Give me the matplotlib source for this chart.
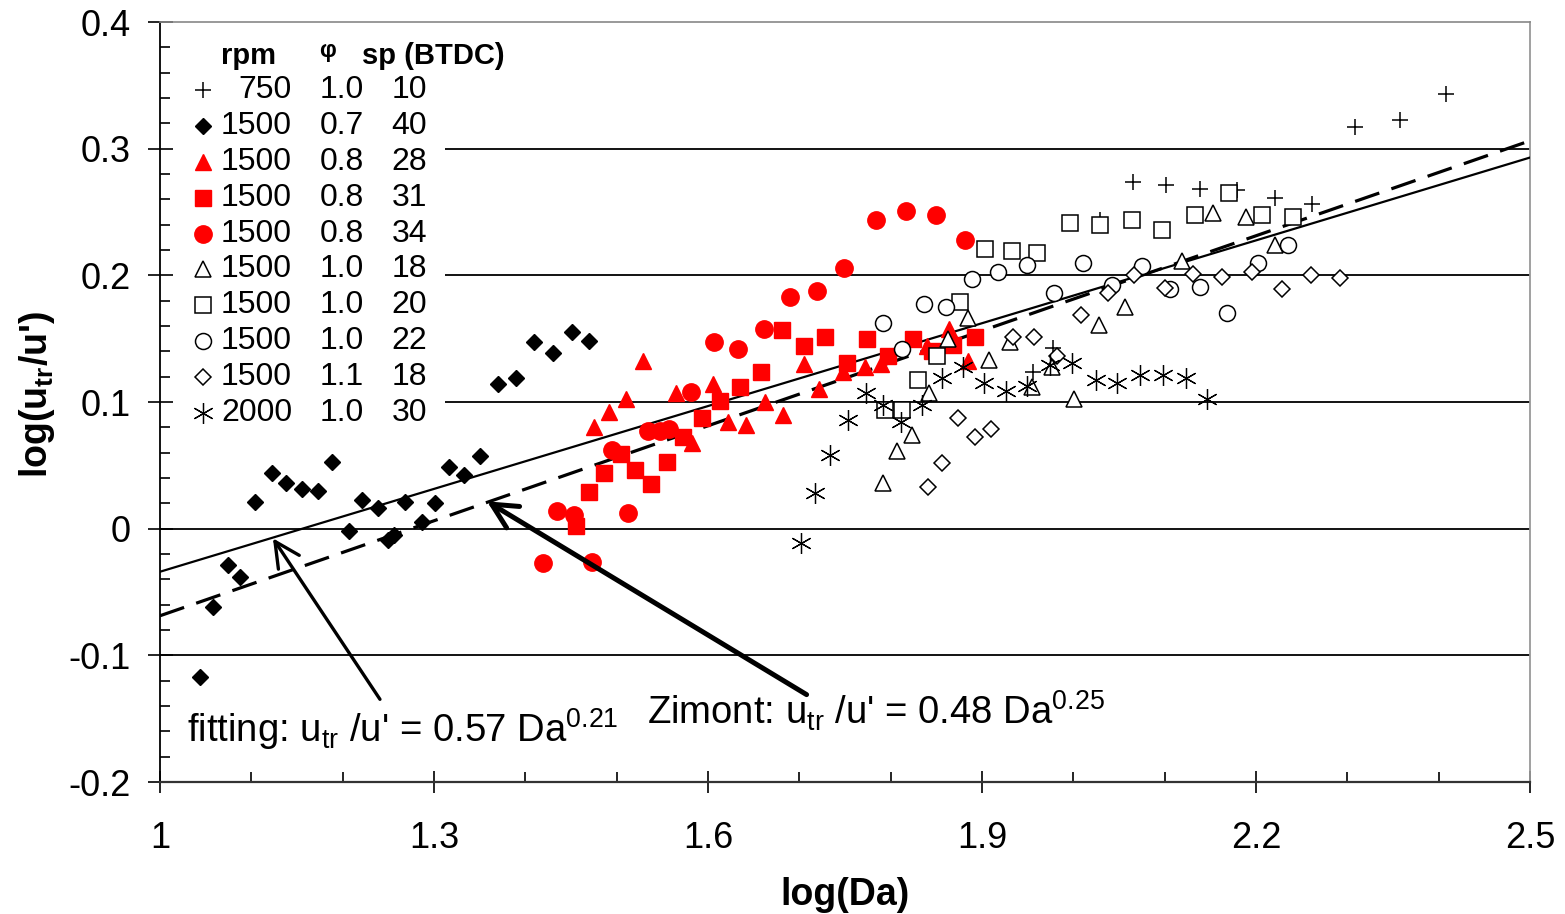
import matplotlib
matplotlib.use("Agg")
import matplotlib.pyplot as plt
from matplotlib.patches import Rectangle
from matplotlib.ticker import MultipleLocator
import numpy as np

plt.rcParams["font.family"] = ["Liberation Sans", "DejaVu Sans"]
plt.rcParams["mathtext.fontset"] = "custom"
plt.rcParams["mathtext.rm"] = "Liberation Sans"
plt.rcParams["mathtext.it"] = "Liberation Sans:italic"
plt.rcParams["mathtext.bf"] = "Liberation Sans:bold"

# ----------------------------------------------------------------------------
# Data: x = log(Da), y = log(u_tr/u')
# ----------------------------------------------------------------------------
# 750 rpm, phi 1.0, sp 10
plus750_x = [1.956, 1.978, 2.029, 2.065, 2.101, 2.139, 2.179, 2.221, 2.261,
             2.308, 2.358, 2.408]
plus750_y = [0.124, 0.143, 0.244, 0.274, 0.271, 0.268, 0.267, 0.261, 0.256,
             0.317, 0.323, 0.343]

# 1500 rpm, phi 0.7, sp 40
dia07_x = [1.044, 1.058, 1.075, 1.088, 1.104, 1.123, 1.138, 1.156, 1.173,
           1.188, 1.207, 1.221, 1.239, 1.250, 1.256, 1.268, 1.287, 1.301,
           1.316, 1.333, 1.350, 1.370, 1.390, 1.410, 1.430, 1.451, 1.470]
dia07_y = [-0.117, -0.062, -0.029, -0.038, 0.021, 0.044, 0.036, 0.031, 0.030,
           0.053, -0.002, 0.023, 0.016, -0.009, -0.005, 0.021, 0.005, 0.020,
           0.049, 0.042, 0.057, 0.114, 0.119, 0.147, 0.139, 0.155, 0.148]

# 1500 rpm, phi 0.8, sp 28
tri08_x = [1.475, 1.492, 1.510, 1.529, 1.565, 1.582, 1.605, 1.622, 1.642,
           1.662, 1.682, 1.705, 1.722, 1.748, 1.772, 1.790, 1.840, 1.864, 1.885]
tri08_y = [0.080, 0.092, 0.102, 0.132, 0.107, 0.068, 0.114, 0.084, 0.082,
           0.100, 0.090, 0.130, 0.110, 0.124, 0.128, 0.130, 0.144, 0.158, 0.132]

# 1500 rpm, phi 0.8, sp 31
sq08_x = [1.455, 1.470, 1.486, 1.505, 1.520, 1.538, 1.555, 1.573, 1.594,
          1.613, 1.635, 1.658, 1.681, 1.705, 1.728, 1.752, 1.774, 1.797,
          1.824, 1.845, 1.868, 1.892]
sq08_y = [0.002, 0.029, 0.044, 0.059, 0.046, 0.035, 0.053, 0.072, 0.087,
          0.101, 0.112, 0.124, 0.157, 0.144, 0.151, 0.131, 0.150, 0.136,
          0.150, 0.140, 0.145, 0.151]

# 1500 rpm, phi 0.8, sp 34
circ08_x = [1.419, 1.435, 1.453, 1.473, 1.495, 1.513, 1.534, 1.547, 1.557,
            1.581, 1.607, 1.633, 1.661, 1.690, 1.719, 1.749, 1.784, 1.817,
            1.850, 1.881]
circ08_y = [-0.027, 0.014, 0.011, -0.026, 0.062, 0.012, 0.077, 0.077, 0.079,
            0.108, 0.147, 0.142, 0.158, 0.183, 0.188, 0.206, 0.244, 0.251,
            0.248, 0.228]

# 1500 rpm, phi 1.0, sp 18
tri10_x = [1.792, 1.807, 1.823, 1.842, 1.863, 1.885, 1.908, 1.931, 1.955,
           1.977, 2.001, 2.028, 2.057, 2.119, 2.153, 2.189, 2.221]
tri10_y = [0.036, 0.061, 0.074, 0.107, 0.150, 0.166, 0.133, 0.147, 0.112,
           0.128, 0.102, 0.161, 0.175, 0.211, 0.249, 0.246, 0.224]

# 1500 rpm, phi 1.0, sp 20
sq10_x = [1.794, 1.812, 1.830, 1.851, 1.876, 1.903, 1.933, 1.960, 1.996,
          2.029, 2.064, 2.097, 2.133, 2.171, 2.207, 2.241]
sq10_y = [0.094, 0.094, 0.117, 0.136, 0.179, 0.221, 0.219, 0.218, 0.241,
          0.240, 0.244, 0.236, 0.248, 0.265, 0.248, 0.246]

# 1500 rpm, phi 1.0, sp 22
circ10_x = [1.792, 1.812, 1.837, 1.861, 1.889, 1.918, 1.949, 1.979, 2.011,
            2.042, 2.075, 2.106, 2.139, 2.168, 2.202, 2.235]
circ10_y = [0.162, 0.142, 0.177, 0.175, 0.197, 0.203, 0.208, 0.186, 0.210,
            0.192, 0.207, 0.189, 0.191, 0.170, 0.210, 0.224]

# 1500 rpm, phi 1.1, sp 18
dia11_x = [1.841, 1.856, 1.874, 1.892, 1.910, 1.934, 1.957, 1.982, 2.009,
           2.038, 2.066, 2.100, 2.131, 2.163, 2.196, 2.228, 2.260, 2.292]
dia11_y = [0.033, 0.052, 0.087, 0.072, 0.079, 0.151, 0.151, 0.136, 0.169,
           0.186, 0.200, 0.190, 0.201, 0.199, 0.203, 0.189, 0.200, 0.198]

# 2000 rpm, phi 1.0, sp 30
ast20_x = [1.702, 1.717, 1.734, 1.753, 1.773, 1.792, 1.811, 1.834, 1.856,
           1.879, 1.902, 1.926, 1.949, 1.974, 1.999, 2.025, 2.048, 2.073,
           2.098, 2.123, 2.146]
ast20_y = [-0.011, 0.028, 0.058, 0.086, 0.107, 0.098, 0.084, 0.098, 0.119,
           0.128, 0.115, 0.109, 0.113, 0.129, 0.131, 0.117, 0.115, 0.121,
           0.121, 0.119, 0.102]

legend_rpm = ["750", "1500", "1500", "1500", "1500", "1500", "1500", "1500",
              "1500", "2000"]
legend_phi = ["1.0", "0.7", "0.8", "0.8", "0.8", "1.0", "1.0", "1.0", "1.1",
              "1.0"]
legend_sp = ["10", "40", "28", "31", "34", "18", "20", "22", "18", "30"]

# straight lines: y = c0 + c1 * x
fit_c0, fit_c1 = -0.252, 0.218                  # fitting line as drawn
zim_c0, zim_c1 = np.log10(0.48), 0.25           # Zimont: 0.48 Da^0.25
line_x = [1.0, 2.5]

xtick_vals = [1.0, 1.3, 1.6, 1.9, 2.2, 2.5]
xtick_labels = ["1", "1.3", "1.6", "1.9", "2.2", "2.5"]
ytick_vals = [-0.2, -0.1, 0.0, 0.1, 0.2, 0.3, 0.4]
ytick_labels = ["-0.2", "-0.1", "0", "0.1", "0.2", "0.3", "0.4"]

# ----------------------------------------------------------------------------
# Plot
# ----------------------------------------------------------------------------
RED = "#ff0000"
series = [
    (plus750_x, plus750_y, dict(marker="+", ms=12, mew=1.1, color="black")),
    (dia07_x, dia07_y, dict(marker="D", ms=8.5, color="black", mec="black")),
    (tri08_x, tri08_y, dict(marker="^", ms=12, color=RED, mec=RED)),
    (sq08_x, sq08_y, dict(marker="s", ms=11, color=RED, mec=RED)),
    (circ08_x, circ08_y, dict(marker="o", ms=12.5, color=RED, mec=RED)),
    (tri10_x, tri10_y, dict(marker="^", ms=11, mfc="white", mec="black", mew=1.1)),
    (sq10_x, sq10_y, dict(marker="s", ms=11, mfc="white", mec="black", mew=1.1)),
    (circ10_x, circ10_y, dict(marker="o", ms=11.5, mfc="white", mec="black", mew=1.1)),
    (dia11_x, dia11_y, dict(marker="D", ms=8, mfc="white", mec="black", mew=1.1)),
    (ast20_x, ast20_y, dict(marker=(6, 2, 0), ms=15, mew=0.9, color="black")),
]

fig = plt.figure(figsize=(15.65, 9.14), dpi=100)
ax = fig.add_axes([0.1022, 0.1444, 0.8754, 0.8315])

ax.set_xlim(1.0, 2.5)
ax.set_ylim(-0.2, 0.4)

# horizontal grid lines
for yv in ytick_vals[1:-1]:
    ax.axhline(yv, color="black", lw=1.3, zorder=0.5)

# white box behind the legend table
ax.add_patch(Rectangle((0.0, 0.46), 0.208, 0.54, transform=ax.transAxes,
                       facecolor="white", edgecolor="none", zorder=1))

# regression / Zimont lines
lx = np.array(line_x)
ax.plot(lx, fit_c0 + fit_c1 * lx, color="black", lw=1.6, zorder=3)
ax.plot(lx, zim_c0 + zim_c1 * lx, color="black", lw=2.3, dashes=(8, 4),
        zorder=3)

for xs, ys, st in series:
    ax.plot(xs, ys, ls="none", zorder=4, **st)

# arrows and equations
ax.annotate("", xy=(1.1237, -0.0076), xytext=(1.2409, -0.1347),
            arrowprops=dict(arrowstyle="->,head_length=0.6,head_width=0.3",
                            lw=2.4, color="black", mutation_scale=30,
                            shrinkA=0, shrinkB=0), zorder=5)
ax.annotate("", xy=(1.358, 0.0216), xytext=(1.708, -0.131),
            arrowprops=dict(arrowstyle="->,head_length=0.6,head_width=0.3",
                            lw=3.6, color="black", mutation_scale=30,
                            shrinkA=0, shrinkB=0), zorder=5)
ax.text(1.0296, -0.168, r"fitting: u$_{\mathrm{tr}}$ /u' = 0.57 Da$^{0.21}$",
        fontsize=27.5, va="baseline", ha="left")
ax.text(1.533, -0.155, r"Zimont: u$_{\mathrm{tr}}$ /u' = 0.48 Da$^{0.25}$",
        fontsize=27.5, va="baseline", ha="left")

# legend table
tr = ax.transAxes
ax.text(0.065, 0.955, "rpm", transform=tr, fontsize=21, fontweight="bold",
        ha="center", va="center")
ax.text(0.1226, 0.963, "φ", transform=tr, fontsize=17, fontweight="bold",
        ha="center", va="center")
ax.text(0.1474, 0.955, "sp (BTDC)", transform=tr, fontsize=21,
        fontweight="bold", ha="left", va="center")
row_y0, row_dy = 0.910, 0.0471
for i, (xs, ys, st) in enumerate(series):
    yy = row_y0 - i * row_dy
    ax.plot([0.0314], [yy], ls="none", transform=tr, clip_on=False,
            zorder=6, **st)
    ax.text(0.0964, yy, legend_rpm[i], transform=tr, fontsize=23,
            ha="right", va="center")
    ax.text(0.1168, yy, legend_phi[i], transform=tr, fontsize=23,
            ha="left", va="center")
    ax.text(0.1949, yy, legend_sp[i], transform=tr, fontsize=23,
            ha="right", va="center")

# ticks
ax.set_xticks(xtick_vals)
ax.set_xticklabels(xtick_labels)
ax.set_yticks(ytick_vals)
ax.set_yticklabels(ytick_labels)
ax.xaxis.set_minor_locator(MultipleLocator(0.1))
ax.yaxis.set_minor_locator(MultipleLocator(0.02))
ax.tick_params(axis="y", which="major", direction="inout", length=18,
               width=1.2, labelsize=26, pad=12)
ax.tick_params(axis="y", which="minor", direction="in", length=7, width=1.2)
ax.tick_params(axis="x", which="major", direction="inout", length=16,
               width=1.2, labelsize=26, pad=20)
ax.tick_params(axis="x", which="minor", direction="in", length=7.5, width=1.2)

ax.spines["left"].set_color("black")
ax.spines["left"].set_linewidth(1.3)
ax.spines["bottom"].set_color("#333333")
ax.spines["bottom"].set_linewidth(1.6)
ax.spines["top"].set_color("#888888")
ax.spines["top"].set_linewidth(1.2)
ax.spines["right"].set_color("#999999")
ax.spines["right"].set_linewidth(1.3)

ax.set_xlabel("log(Da)", fontsize=27, fontweight="bold")
ax.set_ylabel(r"log(u$_{\mathbf{tr}}$/u')", fontsize=27, fontweight="bold")
ax.xaxis.set_label_coords(0.5, -0.125)
ax.yaxis.set_label_coords(-0.075, 0.51)

fig.savefig("out.png", dpi=100)
